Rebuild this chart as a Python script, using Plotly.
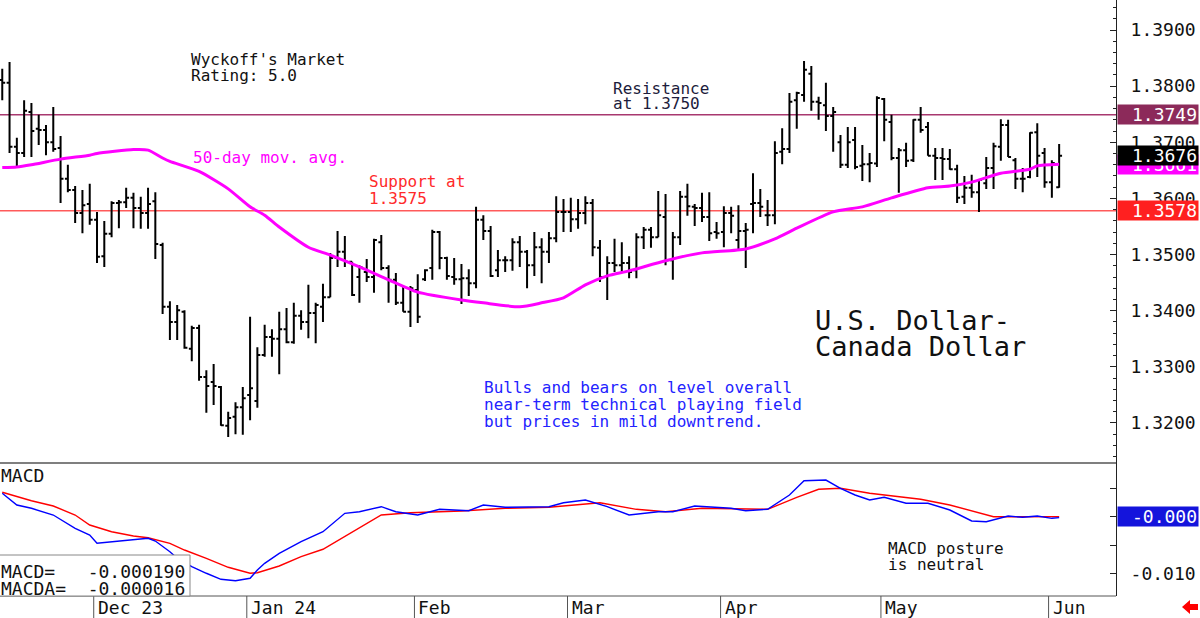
import plotly.graph_objects as go
import pandas as pd

# ---------------- data ----------------
dates = pd.bdate_range("2023-11-14", "2024-06-04")

bar_open = [1.3811,1.3806,1.3692,1.3681,1.3754,1.3724,1.3722,1.3700,1.3690,1.3635,
            1.3615,1.3574,1.3590,1.3562,1.3497,1.3537,1.3592,1.3593,1.3601,1.3583,
            1.3574,1.3595,1.3517,1.3407,1.3380,1.3398,1.3332,1.3369,1.3282,1.3273,
            1.3264,1.3195,1.3211,1.3228,1.3250,1.3239,1.3321,1.3353,1.3350,1.3367,
            1.3344,1.3391,1.3380,1.3396,1.3407,1.3424,1.3494,1.3505,1.3487,1.3460,
            1.3469,1.3460,1.3522,1.3476,1.3455,1.3414,1.3398,1.3437,1.3456,1.3476,
            1.3540,1.3494,1.3460,1.3456,1.3458,1.3449,1.3562,1.3542,1.3472,1.3490,
            1.3490,1.3522,1.3505,1.3481,1.3513,1.3505,1.3529,1.3576,1.3576,1.3563,
            1.3574,1.3592,1.3512,1.3460,1.3485,1.3481,1.3485,1.3472,1.3531,1.3544,
            1.3531,1.3567,1.3490,1.3531,1.3603,1.3585,1.3583,1.3567,1.3540,1.3540,
            1.3574,1.3526,1.3542,1.3590,1.3592,1.3570,1.3570,1.3683,1.3688,1.3775,
            1.3784,1.3822,1.3772,1.3766,1.3747,1.3700,1.3660,1.3704,1.3658,1.3661,
            1.3662,1.3777,1.3736,1.3672,1.3686,1.3668,1.3740,1.3727,1.3676,1.3672,
            1.3670,1.3652,1.3603,1.3619,1.3611,1.3627,1.3654,1.3692,1.3731,1.3668,
            1.3635,1.3638,1.3718,1.3681,1.3629,1.3620]
bar_high = [1.3831,1.3843,1.3708,1.3775,1.3770,1.3749,1.3731,1.3763,1.3711,1.3660,
            1.3622,1.3615,1.3626,1.3576,1.3560,1.3595,1.3597,1.3619,1.3610,1.3603,
            1.3619,1.3611,1.3521,1.3417,1.3410,1.3401,1.3373,1.3375,1.3294,1.3305,
            1.3266,1.3220,1.3237,1.3264,1.3389,1.3335,1.3375,1.3367,1.3398,1.3405,
            1.3414,1.3401,1.3446,1.3414,1.3448,1.3503,1.3542,1.3533,1.3487,1.3481,
            1.3492,1.3528,1.3535,1.3481,1.3467,1.3444,1.3444,1.3465,1.3474,1.3544,
            1.3542,1.3496,1.3494,1.3483,1.3474,1.3585,1.3570,1.3551,1.3508,1.3497,
            1.3529,1.3533,1.3508,1.3540,1.3529,1.3540,1.3604,1.3599,1.3601,1.3599,
            1.3604,1.3599,1.3526,1.3497,1.3528,1.3522,1.3497,1.3538,1.3549,1.3549,
            1.3613,1.3608,1.3540,1.3613,1.3626,1.3590,1.3610,1.3611,1.3558,1.3586,
            1.3585,1.3588,1.3556,1.3645,1.3617,1.3597,1.3702,1.3725,1.3788,1.3790,
            1.3845,1.3836,1.3781,1.3806,1.3763,1.3713,1.3727,1.3727,1.3695,1.3681,
            1.3782,1.3779,1.3749,1.3690,1.3699,1.3741,1.3763,1.3736,1.3690,1.3690,
            1.3688,1.3660,1.3640,1.3642,1.3633,1.3674,1.3699,1.3741,1.3740,1.3672,
            1.3654,1.3718,1.3734,1.3690,1.3668,1.3697]
bar_low = [1.3775,1.3681,1.3654,1.3674,1.3674,1.3695,1.3677,1.3683,1.3592,1.3611,
           1.3556,1.3538,1.3553,1.3485,1.3478,1.3531,1.3547,1.3583,1.3547,1.3546,
           1.3546,1.3492,1.3394,1.3348,1.3348,1.3332,1.3310,1.3275,1.3218,1.3232,
           1.3195,1.3175,1.3180,1.3179,1.3205,1.3227,1.3318,1.3318,1.3287,1.3342,
           1.3341,1.3366,1.3351,1.3342,1.3380,1.3424,1.3478,1.3478,1.3426,1.3414,
           1.3451,1.3432,1.3472,1.3414,1.3410,1.3398,1.3371,1.3378,1.3453,1.3455,
           1.3474,1.3455,1.3446,1.3412,1.3426,1.3440,1.3526,1.3460,1.3460,1.3469,
           1.3471,1.3478,1.3440,1.3462,1.3449,1.3485,1.3522,1.3540,1.3540,1.3546,
           1.3554,1.3497,1.3451,1.3419,1.3469,1.3467,1.3458,1.3458,1.3510,1.3512,
           1.3531,1.3481,1.3455,1.3517,1.3569,1.3551,1.3558,1.3524,1.3528,1.3513,
           1.3538,1.3510,1.3476,1.3538,1.3567,1.3551,1.3554,1.3661,1.3681,1.3724,
           1.3772,1.3756,1.3740,1.3720,1.3683,1.3654,1.3654,1.3652,1.3631,1.3629,
           1.3656,1.3702,1.3668,1.3610,1.3656,1.3665,1.3717,1.3676,1.3633,1.3633,
           1.3651,1.3592,1.3590,1.3601,1.3576,1.3617,1.3617,1.3667,1.3674,1.3617,
           1.3611,1.3636,1.3638,1.3619,1.3601,1.3619]
bar_close = [1.3806,1.3692,1.3681,1.3756,1.3720,1.3722,1.3700,1.3688,1.3635,1.3615,
             1.3574,1.3588,1.3562,1.3496,1.3537,1.3592,1.3593,1.3601,1.3583,1.3574,
             1.3590,1.3519,1.3407,1.3380,1.3401,1.3334,1.3369,1.3282,1.3266,1.3266,
             1.3196,1.3209,1.3228,1.3244,1.3262,1.3321,1.3353,1.3350,1.3367,1.3344,
             1.3391,1.3380,1.3396,1.3410,1.3424,1.3494,1.3505,1.3487,1.3428,1.3478,
             1.3460,1.3526,1.3476,1.3455,1.3414,1.3398,1.3440,1.3389,1.3472,1.3540,
             1.3494,1.3462,1.3456,1.3458,1.3449,1.3562,1.3542,1.3462,1.3490,1.3490,
             1.3522,1.3505,1.3481,1.3513,1.3505,1.3529,1.3576,1.3576,1.3563,1.3574,
             1.3592,1.3513,1.3460,1.3485,1.3481,1.3485,1.3469,1.3531,1.3544,1.3531,
             1.3570,1.3490,1.3531,1.3603,1.3586,1.3583,1.3567,1.3538,1.3538,1.3574,
             1.3569,1.3542,1.3544,1.3592,1.3585,1.3570,1.3681,1.3688,1.3772,1.3788,
             1.3829,1.3772,1.3770,1.3747,1.3754,1.3660,1.3700,1.3656,1.3661,1.3663,
             1.3779,1.3740,1.3672,1.3686,1.3667,1.3740,1.3722,1.3676,1.3672,1.3670,
             1.3652,1.3601,1.3619,1.3611,1.3633,1.3654,1.3693,1.3731,1.3674,1.3635,
             1.3635,1.3717,1.3676,1.3629,1.3663,1.3676]

# 50-day moving average (bar number, value)
ma_bar = [0, 2, 4, 8, 12, 13, 18, 20, 22, 23, 27, 31, 34, 36, 38, 42, 45, 49, 53, 57,
          63, 66, 71, 74, 77, 80, 83, 86, 91, 96, 102, 106, 109, 114, 118, 122, 127,
          130, 133, 137, 141, 142, 145]
ma_val = [1.3655, 1.3656, 1.3660, 1.3670, 1.3677, 1.3680, 1.3687, 1.3686, 1.3672, 1.3666,
          1.3648, 1.3617, 1.3585, 1.3570, 1.3549, 1.3513, 1.3499, 1.3478, 1.3455, 1.3433,
          1.3419, 1.3414, 1.3407, 1.3414, 1.3423, 1.3446, 1.3462, 1.3471, 1.3489, 1.3503,
          1.3510, 1.3528, 1.3547, 1.3576, 1.3585, 1.3601, 1.3619, 1.3622, 1.3629, 1.3645,
          1.3652, 1.3658, 1.3661]

# MACD (blue) and MACDA signal (red)
macd_bar = [0,2,4,7,10,12,13,15,18,20,21,23,24,26,28,30,32,34,35,36,38,41,44,47,49,52,54,57,60,64,
            66,69,75,77,80,83,86,90,92,95,100,102,105,108,110,113,115,117,119,121,124,127,130,133,
            135,138,140,142,144,145]
macd_val = [0.00407,0.00202,0.00144,0.00026,-0.00207,-0.00325,-0.00470,-0.00442,-0.00400,-0.00382,
            -0.00430,-0.00618,-0.00733,-0.00881,-0.00996,-0.01102,-0.01126,-0.01084,-0.00939,-0.00821,
            -0.00646,-0.00442,-0.00267,0.00056,0.00084,0.00172,0.00084,0.00026,0.00126,0.00102,
            0.00202,0.00161,0.00172,0.00242,0.00289,0.00172,0.00026,0.00084,0.00084,0.00184,
            0.00144,0.00102,0.00126,0.00377,0.00628,0.00640,0.00495,0.00377,0.00289,0.00337,
            0.00232,0.00232,0.00114,-0.00079,-0.00091,0.00009,-0.00014,0.00009,-0.00032,-0.00019]
macda_bar = [0,2,4,7,10,12,15,18,20,23,25,28,31,34,35,38,41,44,47,52,56,63,69,75,82,87,91,96,105,109,
             112,115,119,126,130,134,136,140,145]
macda_val = [0.00425,0.00347,0.00277,0.00184,0.00026,-0.00149,-0.00267,-0.00342,-0.00372,-0.00470,
             -0.00588,-0.00733,-0.00891,-0.00996,-0.00986,-0.00868,-0.00705,-0.00575,-0.00354,0.00026,
             0.00067,0.00096,0.00144,0.00161,0.00242,0.00126,0.00084,0.00144,0.00126,0.00337,
             0.00477,0.00495,0.00407,0.00302,0.00202,0.00056,-0.00004,-0.00004,-0.000016]

resistance = 1.3749
support = 1.3578
last_price = 1.3676
last_ma = 1.3661
macd_last = -0.000190
macda_last = -0.000016

month_keys = [(2023, 12), (2024, 1), (2024, 2), (2024, 3), (2024, 4), (2024, 5), (2024, 6)]
month_text = ["Dec 23", "Jan 24", "Feb", "Mar", "Apr", "May", "Jun"]

# ---------------- figure ----------------
W, H = 1200, 618
PH = 596            # plot-area height (bottom strip of 22 px for month labels)
XR = 1116           # right edge of plotting area in px
FONT = "DejaVu Sans Mono"
SPLIT = (PH - 463) / PH

def px(xp):
    return xp / W

def py(yp):
    return (PH - yp) / PH

pos = list(range(len(dates)))
month_pos = []
for (yy, mm) in month_keys:
    for i, d in enumerate(dates):
        if d.year == yy and d.month == mm:
            month_pos.append(i)
            break

fig = go.Figure()
fig.add_trace(go.Ohlc(
    x=pos, open=bar_open, high=bar_high, low=bar_low, close=bar_close,
    increasing=dict(line=dict(color="black", width=2)),
    decreasing=dict(line=dict(color="black", width=2)),
    tickwidth=0.4, hoverinfo="skip", showlegend=False, xaxis="x", yaxis="y"))
fig.add_trace(go.Scatter(
    x=ma_bar, y=ma_val, mode="lines", line=dict(color="#ff00ff", width=3, shape="spline", smoothing=0.6),
    hoverinfo="skip", showlegend=False, xaxis="x", yaxis="y"))
fig.add_trace(go.Scatter(
    x=macda_bar, y=macda_val, mode="lines", line=dict(color="#ff0000", width=1.4),
    hoverinfo="skip", showlegend=False, xaxis="x", yaxis="y2"))
fig.add_trace(go.Scatter(
    x=macd_bar, y=macd_val, mode="lines", line=dict(color="#0000ff", width=1.4),
    hoverinfo="skip", showlegend=False, xaxis="x", yaxis="y2"))

x0, x1 = -0.31, 152.8
shapes = []
# support / resistance
shapes.append(dict(type="line", xref="paper", x0=0, x1=XR / W, yref="y", y0=resistance, y1=resistance,
                   line=dict(color="#a8386f", width=1.5), layer="below"))
shapes.append(dict(type="line", xref="paper", x0=0, x1=XR / W, yref="y", y0=support, y1=support,
                   line=dict(color="#ff5a5a", width=1.5), layer="below"))
# panel separator and bottom line
shapes.append(dict(type="line", xref="paper", x0=0, x1=XR / W, yref="paper", y0=SPLIT, y1=SPLIT,
                   line=dict(color="black", width=1.2)))
shapes.append(dict(type="line", xref="paper", x0=0, x1=XR / W, yref="paper", y0=0, y1=0,
                   line=dict(color="#555", width=1)))
# month dividers in the bottom strip
for mp in month_pos:
    shapes.append(dict(type="line", xref="x", x0=mp - 0.45, x1=mp - 0.45, yref="paper", y0=0, y1=py(H),
                       line=dict(color="#555", width=1)))
# MACD value box
shapes.append(dict(type="rect", xref="paper", yref="paper", x0=px(-1), x1=px(190), y0=py(596), y1=py(555),
                   line=dict(color="#888", width=1), fillcolor="white", layer="above"))
# red arrow bottom right
pts = [(1182, 607), (1190, 600), (1190, 604), (1198, 604), (1198, 610), (1190, 610), (1190, 614)]
path = "M " + " L ".join(f"{px(a):.5f},{py(b):.5f}" for a, b in pts) + " Z"
shapes.append(dict(type="path", xref="paper", yref="paper", path=path,
                   fillcolor="#ff0000", line=dict(color="#ff0000", width=0)))

ann = []
def txt(s, xp, yp, size=16, color="#111111"):
    ann.append(dict(text=s, xref="paper", yref="paper", x=px(xp), y=py(yp), xanchor="left", yanchor="middle",
                    showarrow=False, font=dict(family=FONT, size=size, color=color)))

txt("Wyckoff's Market", 189, 59)
txt("Rating: 5.0", 189, 75)
txt("Resistance", 611, 88, color="#1c1c3c")
txt("at 1.3750", 611, 104, color="#1c1c3c")
txt("Support at", 367, 182, color="#ff2a2a")
txt("1.3575", 367, 198, color="#ff2a2a")
txt("50-day mov. avg.", 191, 157, color="#ff00ff")
txt("U.S. Dollar-", 813, 320, size=27)
txt("Canada Dollar", 813, 346, size=27)
txt("Bulls and bears on level overall", 482, 387, color="#2323ff")
txt("near-term technical playing field", 482, 404, color="#2323ff")
txt("but prices in mild downtrend.", 482, 421, color="#2323ff")
txt("MACD posture", 886, 548)
txt("is neutral", 886, 564)
txt("MACD", -1, 475, size=18)
nb = "\u00a0"
txt("MACD=" + nb * 3 + f"{macd_last:.6f}", -1, 571, size=18)
txt("MACDA=" + nb * 2 + f"{macda_last:.6f}", -1, 588, size=18)

for mp, mt in zip(month_pos, month_text):
    ann.append(dict(text=mt, xref="x", x=mp - 0.45, xshift=2, xanchor="left", yref="paper", y=py(607),
                    yanchor="middle", showarrow=False, font=dict(family=FONT, size=18, color="#111")))

def box(s, yval, yref, bg):
    ann.append(dict(text=s, xref="paper", x=px(XR + 1), xanchor="left", yref=yref, y=yval, yanchor="middle",
                    showarrow=False, bgcolor=bg, width=78, height=17, align="right", borderpad=1,
                    font=dict(family=FONT, size=18, color="white")))

box(f"{resistance:.4f}", resistance, "y", "#8c2a5a")
box(f"{last_ma:.4f}", last_ma, "y", "#ff00ff")
box(f"{last_price:.4f}", last_price, "y", "#000000")
box(f"{support:.4f}", support, "y", "#ff2020")
box("-0.000", 0.0, "y2", "#1414dc")

axis_font = dict(family=FONT, size=18, color="#111")
fig.update_layout(
    width=W, height=H, autosize=False,
    margin=dict(l=0, r=0, t=0, b=H - PH, pad=0),
    paper_bgcolor="white", plot_bgcolor="white",
    showlegend=False,
    xaxis=dict(domain=[0, XR / W], range=[x0, x1], showticklabels=False, ticks="", showgrid=False,
               zeroline=False, showline=False, rangeslider=dict(visible=False), anchor="y2"),
    yaxis=dict(domain=[SPLIT, 1], range=[1.312871, 1.395344], side="right", anchor="x",
               tick0=1.30, dtick=0.01, tickformat=".4f", ticks="inside", ticklen=6, tickcolor="#222",
               showline=True, linecolor="#222", linewidth=1, showgrid=False, zeroline=False,
               tickfont=axis_font, ticklabelstandoff=10, automargin=False,
               minor=dict(dtick=0.002, ticks="inside", ticklen=3, tickcolor="#222", showgrid=False)),
    yaxis2=dict(domain=[0, SPLIT], range=[-0.013947, 0.009386], side="right", anchor="x",
                tickvals=[-0.010, -0.005, 0.0, 0.005], ticktext=["-0.010", "", "-0.000", ""],
                ticks="inside", ticklen=6, tickcolor="#222",
                showline=True, linecolor="#222", linewidth=1, showgrid=False, zeroline=False,
                tickfont=axis_font, ticklabelstandoff=10, automargin=False),
    shapes=shapes, annotations=ann,
)

fig.write_html("out.html")
